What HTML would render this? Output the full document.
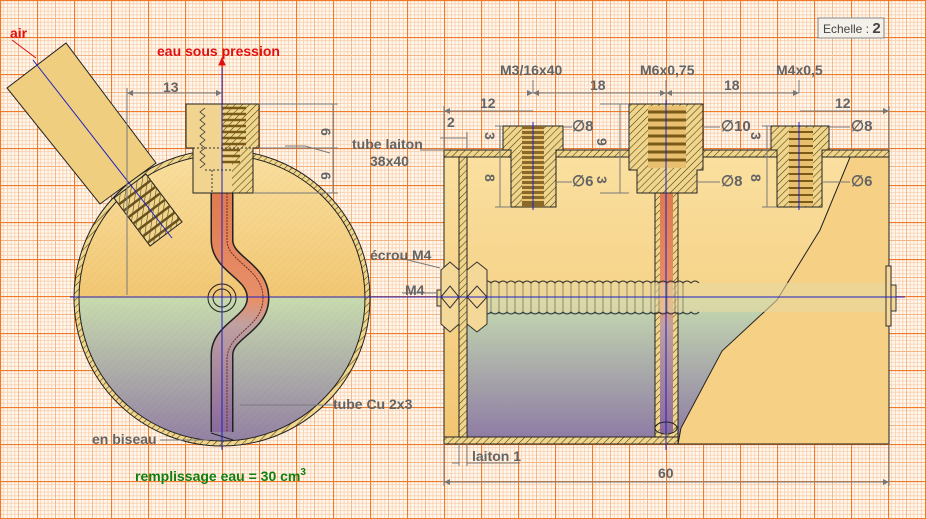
<!DOCTYPE html>
<html><head><meta charset="utf-8"><style>
html,body{margin:0;padding:0;background:#fff8ee;}
svg{display:block;font-family:"Liberation Sans",sans-serif;}
.d{font-weight:bold;font-size:14px;fill:#646464;}
.dl{stroke:#7a7a7a;stroke-width:1;fill:none;}
.o{stroke:#222;stroke-width:1;}
</style></head><body>
<svg width="926" height="519" viewBox="0 0 926 519" xmlns="http://www.w3.org/2000/svg">
<defs>
<pattern id="grid" width="37" height="37" patternUnits="userSpaceOnUse">
<rect width="37" height="37" fill="#fff8ee"/>
<g stroke="#f9cfae" stroke-width="0.8">
<path d="M3.7 0V37M7.4 0V37M11.1 0V37M14.8 0V37M22.2 0V37M25.9 0V37M29.6 0V37M33.3 0V37M0 3.7H37M0 7.4H37M0 11.1H37M0 14.8H37M0 22.2H37M0 25.9H37M0 29.6H37M0 33.3H37"/>
</g>
<path d="M18.5 0V37M0 18.5H37" stroke="#f6b483" stroke-width="0.9"/>
<path d="M0.5 0V37M0 0.5H37" stroke="#f07a2a" stroke-width="1.2"/>
</pattern>
<pattern id="hatch" width="5" height="5" patternUnits="userSpaceOnUse" patternTransform="rotate(45)">
<rect width="5" height="5" fill="#f0d68c"/>
<line x1="0" y1="0" x2="0" y2="5" stroke="#4a3a10" stroke-width="1.1"/>
</pattern>
<linearGradient id="air" x1="0" y1="0" x2="0" y2="1">
<stop offset="0" stop-color="#fae0a0"/><stop offset="1" stop-color="#f2c672"/>
</linearGradient>
<linearGradient id="water" x1="0" y1="0" x2="0" y2="1">
<stop offset="0" stop-color="#c6dcb0"/><stop offset="1" stop-color="#8c78a4"/>
</linearGradient>
<linearGradient id="cu" x1="0" y1="0" x2="0" y2="1">
<stop offset="0" stop-color="#e07a50"/><stop offset="0.45" stop-color="#e8906a"/><stop offset="0.55" stop-color="#c0a0a0"/><stop offset="1" stop-color="#8a6a9c"/>
</linearGradient>
<clipPath id="circ"><circle cx="222" cy="298" r="143"/></clipPath>
<clipPath id="boxin"><rect x="467" y="157" width="422" height="280"/></clipPath>
</defs>
<rect width="926" height="519" fill="url(#grid)"/>

<!-- ===== LEFT VIEW ===== -->
<circle cx="222" cy="298" r="148" fill="url(#hatch)" class="o"/>
<g clip-path="url(#circ)">
<rect x="70" y="150" width="310" height="148" fill="url(#air)" opacity="0.95"/>
<rect x="70" y="298" width="310" height="150" fill="url(#water)" opacity="0.95"/>
</g>
<circle cx="222" cy="298" r="143" fill="none" class="o"/>
<!-- copper tube -->
<path d="M222 193 L222 240 C222 265 258 270 258 298 C258 325 222 330 222 355 L222 432" fill="none" stroke="#222" stroke-width="23"/>
<path d="M222 193 L222 240 C222 265 258 270 258 298 C258 325 222 330 222 355 L222 432" fill="none" stroke="url(#cu)" stroke-width="20"/>
<path d="M227 190 L227 240 C227 262 263 268 263 298 C263 328 227 332 227 360 L227 432" fill="none" stroke="#6a3020" stroke-width="1" stroke-dasharray="2 1"/>
<path d="M211 433 L233 440" stroke="#222"/>
<!-- hole -->
<circle cx="222" cy="298" r="14" fill="none" stroke="#222" stroke-width="1"/>
<circle cx="222" cy="298" r="9" fill="none" stroke="#222" stroke-width="1"/>
<!-- air fitting -->
<polygon points="7,88 66,43 156,163 100,204" fill="#efce80" class="o"/>
<g transform="translate(148,210) rotate(-37)">
<rect x="-20" y="-30" width="40" height="60" fill="url(#hatch)" class="o"/>
<path d="M-20 -22H20M-20 -14H20M-20 -6H20M-20 2H20M-20 10H20M-20 18H20M-20 26H20" stroke="#6a5220" stroke-width="2.5"/>
</g>
<line x1="33" y1="60" x2="172" y2="238" stroke="#2020c0" stroke-width="1"/>
<!-- top fitting -->
<polygon points="186,104 259,104 259,148 253,148 253,193 193,193 193,148 186,148" fill="#f0d490" class="o"/>
<rect x="222" y="104" width="37" height="44" fill="url(#hatch)"/>
<rect x="232" y="148" width="21" height="45" fill="url(#hatch)"/>
<path d="M222 108H246M222 114H246M222 120H246M222 126H246M222 132H246M222 138H246M222 144H246M222 150H240M222 156H240M222 162H240" stroke="#7a5a18" stroke-width="2.5"/>
<path d="M205 108 l-5 4 5 4 -5 4 5 4 -5 4 5 4 -5 4 5 4 -5 4 5 4 -5 4 5 4 -5 4 5 4 -5 4" fill="none" stroke="#333" stroke-width="0.8"/>
<path d="M193 148H253M205 170H232M212 170V193" stroke="#333" stroke-dasharray="2 2" fill="none"/>
<polygon points="186,104 259,104 259,148 253,148 253,193 193,193 193,148 186,148" fill="none" class="o"/>
<!-- center lines -->
<line x1="222" y1="58" x2="222" y2="450" stroke="#2020c0" stroke-width="1"/>
<line x1="70" y1="297" x2="905" y2="297" stroke="#2020c0" stroke-width="1"/>

<!-- ===== RIGHT VIEW ===== -->
<rect x="444" y="150" width="445" height="294" fill="url(#air)"/>
<g clip-path="url(#boxin)">
<rect x="444" y="297" width="445" height="147" fill="url(#water)"/>
</g>
<polygon points="853,150 889,150 889,444 678,444 681,428 722,351 777,300 820,230" fill="#f6d084" stroke="#222"/>
<rect x="444" y="150" width="445" height="294" fill="none" class="o"/>
<rect x="444" y="150" width="445" height="7" fill="url(#hatch)" class="o"/>
<rect x="459" y="157" width="8" height="280" fill="url(#hatch)" class="o"/>
<rect x="444" y="437" width="234" height="7" fill="url(#hatch)" class="o"/>
<!-- tube -->
<rect x="655" y="193" width="23" height="244" fill="url(#hatch)" class="o"/>
<rect x="660" y="193" width="13" height="240" fill="url(#cu)"/>
<ellipse cx="666" cy="428" rx="11" ry="6" fill="none" stroke="#222"/>
<!-- fittings -->
<g>
<polygon points="503,126 563,126 563,150 556,150 556,207 511,207 511,150 503,150" fill="url(#hatch)" class="o"/>
<rect x="522" y="126" width="22" height="81" fill="#8a6a2a"/>
<path d="M522 130H544M522 135H544M522 140H544M522 145H544M522 150H544M522 155H544M522 160H544M522 165H544M522 170H544M522 175H544M522 180H544M522 185H544M522 190H544M522 195H544M522 200H544" stroke="#e8c470" stroke-width="2"/>
<polygon points="629,104 703,104 703,170 697,170 697,193 637,193 637,170 629,170" fill="url(#hatch)" class="o"/>
<rect x="648" y="106" width="38" height="62" fill="#e8c070"/>
<path d="M648 112H686M648 120H686M648 128H686M648 136H686M648 144H686M648 152H686M648 160H686" stroke="#7a5a18" stroke-width="3"/>
<polygon points="771,126 829,126 829,150 822,150 822,207 777,207 777,150 771,150" fill="url(#hatch)" class="o"/>
<rect x="789" y="128" width="24" height="78" fill="#e8c070"/>
<path d="M789 132H813M789 139H813M789 146H813M789 153H813M789 160H813M789 167H813M789 174H813M789 181H813M789 188H813M789 195H813M789 202H813" stroke="#7a5a18" stroke-width="2"/>
</g>
<!-- threaded rod -->
<rect x="475" y="283" width="410" height="29" fill="#e8d8a0" opacity="0.6"/>
<path d="M475 283 q4 -4 8 0 q4 -4 8 0 q4 -4 8 0 q4 -4 8 0 q4 -4 8 0 q4 -4 8 0 q4 -4 8 0 q4 -4 8 0 q4 -4 8 0 q4 -4 8 0 q4 -4 8 0 q4 -4 8 0 q4 -4 8 0 q4 -4 8 0 q4 -4 8 0 q4 -4 8 0 q4 -4 8 0 q4 -4 8 0 q4 -4 8 0 q4 -4 8 0 q4 -4 8 0 q4 -4 8 0 q4 -4 8 0 q4 -4 8 0 q4 -4 8 0 q4 -4 8 0 q4 -4 8 0 q4 -4 8 0" fill="none" stroke="#333" stroke-width="1"/>
<path d="M475 312 q4 4 8 0 q4 4 8 0 q4 4 8 0 q4 4 8 0 q4 4 8 0 q4 4 8 0 q4 4 8 0 q4 4 8 0 q4 4 8 0 q4 4 8 0 q4 4 8 0 q4 4 8 0 q4 4 8 0 q4 4 8 0 q4 4 8 0 q4 4 8 0 q4 4 8 0 q4 4 8 0 q4 4 8 0 q4 4 8 0 q4 4 8 0 q4 4 8 0 q4 4 8 0 q4 4 8 0 q4 4 8 0 q4 4 8 0 q4 4 8 0 q4 4 8 0" fill="none" stroke="#333" stroke-width="1"/>
<path d="M483 281 V314 M491 281 V314 M499 281 V314 M507 281 V314 M515 281 V314 M523 281 V314 M531 281 V314 M539 281 V314 M547 281 V314 M555 281 V314 M563 281 V314 M571 281 V314 M579 281 V314 M587 281 V314 M595 281 V314 M603 281 V314 M611 281 V314 M619 281 V314 M627 281 V314 M635 281 V314 M643 281 V314 M651 281 V314 M659 281 V314 M667 281 V314 M675 281 V314 M683 281 V314" stroke="#555" stroke-width="0.6"/>
<!-- nuts -->
<g fill="#f4d898" stroke="#333">
<polygon points="441,270 450,262 459,270 459,324 450,332 441,324"/>
<polygon points="467,270 477,262 487,270 487,324 477,332 467,324"/>
<path d="M441 297 L450 286 459 297 450 308Z M467 297 L477 286 487 297 477 308Z" fill="none"/>
<rect x="437" y="290" width="4" height="16"/>
<rect x="886" y="266" width="5" height="60"/>
<rect x="891" y="285" width="5" height="26"/>
</g>
<line x1="666" y1="100" x2="666" y2="450" stroke="#2020c0"/>
<line x1="533" y1="122" x2="533" y2="210" stroke="#2020c0"/>
<line x1="799" y1="122" x2="799" y2="210" stroke="#2020c0"/>
<line x1="430" y1="297" x2="900" y2="297" stroke="#2020c0"/>

<!-- ===== DIMENSIONS ===== -->
<g class="dl">
<path d="M127 93H222M127 88V295"/>
<path d="M259 104H338M259 148H338M253 193H338M333 104V193"/>
<path d="M444 111H533M444 106V150M533 80V93M666 80V100M799 80V93M533 93H799M800 111H889M889 106V150"/>
<path d="M440 138H467M467 132V150"/>
<path d="M600 104H629M620 104V193M600 193H629"/>
<path d="M495 126H503M500 126V207M495 207H511"/>
<path d="M762 126H771M767 126V207M762 207H777"/>
<path d="M563 127H572M703 127H720M829 127H850M556 182H572M697 182H720M822 182H850"/>
<path d="M444 444V486M889 444V486M444 482H889M459 444V466M467 444V466M452 463H459M467 463H520"/>
<path d="M340 405H240M160 440H210M400 258L440 268M402 293H437"/>
<path d="M285 146H305L330 153M420 150H444"/>
</g>
<g fill="#777">
<path d="M127 93l6 -3v6zM222 93l-6 -3v6zM533 93l6 -3v6zM533 93l-6 -3v6zM666 93l6 -3v6zM666 93l-6 -3v6zM799 93l-6 -3v6zM444 111l6 -3v6zM889 111l-6 -3v6zM444 482l6 -3v6zM889 482l-6 -3v6z"/>
</g>
<g class="d">
<text x="163" y="92">13</text>
<text x="480" y="108">12</text>
<text x="590" y="90">18</text>
<text x="724" y="90">18</text>
<text x="835" y="108">12</text>
<text x="447" y="127">2</text>
<text x="352" y="149">tube laiton</text>
<text x="370" y="166">38x40</text>
<text x="500" y="75">M3/16x40</text>
<text x="640" y="75">M6x0,75</text>
<text x="776" y="75">M4x0,5</text>
<text x="572" y="131" font-size="15">∅8</text>
<text x="721" y="131" font-size="15">∅10</text>
<text x="851" y="131" font-size="15">∅8</text>
<text x="572" y="186" font-size="15">∅6</text>
<text x="721" y="186" font-size="15">∅8</text>
<text x="851" y="186" font-size="15">∅6</text>
<text transform="translate(321,128) rotate(90)">6</text>
<text transform="translate(321,172) rotate(90)">6</text>
<text transform="translate(485,132) rotate(90)">3</text>
<text transform="translate(485,174) rotate(90)">8</text>
<text transform="translate(597,138) rotate(90)">9</text>
<text transform="translate(597,176) rotate(90)">3</text>
<text transform="translate(751,132) rotate(90)">3</text>
<text transform="translate(751,174) rotate(90)">8</text>
<text x="370" y="260">écrou M4</text>
<text x="405" y="295">M4</text>
<text x="333" y="409">tube Cu 2x3</text>
<text x="92" y="444">en biseau</text>
<text x="472" y="461">laiton 1</text>
<text x="658" y="478">60</text>
</g>
<text x="10" y="38" font-weight="bold" font-size="14" fill="#e01010">air</text>
<path d="M12 40L36 58" stroke="#e01010"/>
<text x="157" y="56" font-weight="bold" font-size="14" fill="#e01010">eau sous pression</text>
<path d="M222 58V68M222 58l-3 7h6z" stroke="#e01010" fill="#e01010"/>
<text x="135" y="481" font-weight="bold" font-size="14" fill="#108010">remplissage eau = 30 cm<tspan dy="-6" font-size="10">3</tspan></text>
<rect x="818" y="18" width="66" height="20" fill="#f4f0ea" stroke="#888"/>
<text x="823" y="33" font-size="12" fill="#444">Echelle : <tspan font-size="15" font-weight="bold">2</tspan></text>
</svg>
</body></html>
